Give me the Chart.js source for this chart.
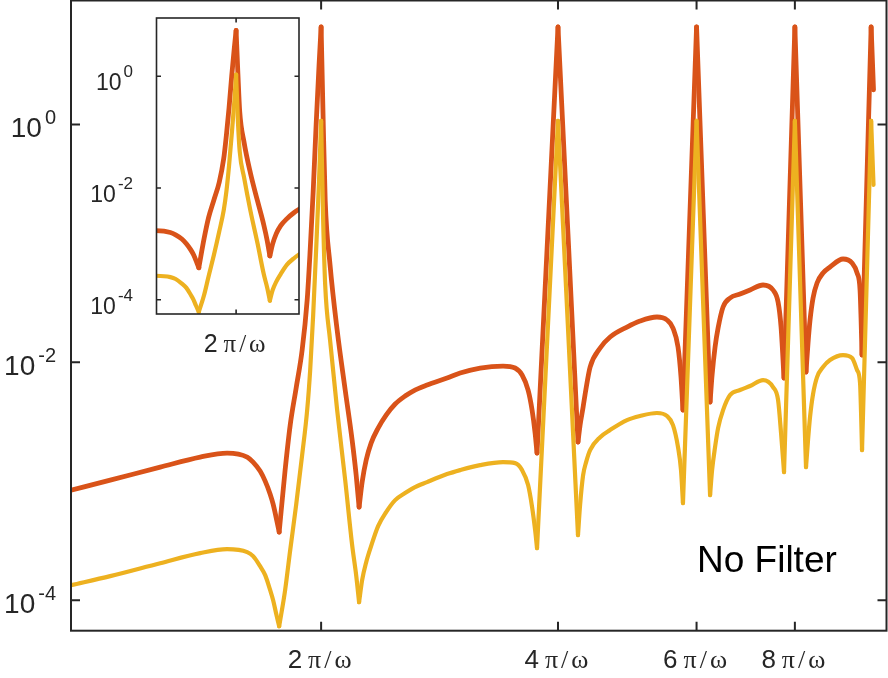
<!DOCTYPE html>
<html>
<head>
<meta charset="utf-8">
<script src="https://cdn.jsdelivr.net/npm/chart.js@4.4.0/dist/chart.umd.min.js"></script>
<style>
  html, body { margin: 0; padding: 0; background: #fff; }
  #wrap { position: relative; width: 888px; height: 678px; }
  #mainChart { position: absolute; left: 0; top: 0; }
  #insetChart { position: absolute; left: 60px; top: 0; }
</style>
</head>
<body>
<div id="wrap">
  <canvas id="mainChart" width="888" height="678"></canvas>
  <canvas id="insetChart" width="260" height="370"></canvas>
</div>
<script>
// frequency, in units of pi/omega
const freq = [
  0.962, 1.079, 1.249, 1.404, 1.519, 1.611, 1.639, 1.673, 1.698, 1.723,
  1.738, 1.753, 1.769, 1.800, 1.827, 1.859, 1.892, 1.920, 1.937, 1.954,
  1.971, 1.988, 2.0, 2.012, 2.024, 2.053, 2.096, 2.146, 2.190, 2.216,
  2.235, 2.255, 2.282, 2.315, 2.363, 2.419, 2.484, 2.557, 2.618, 2.727,
  2.891, 3.004, 3.185, 3.406, 3.528, 3.601, 3.665, 3.708, 3.741, 3.762,
  4.0, 4.241, 4.267, 4.305, 4.343, 4.394, 4.525, 4.659, 4.895, 5.085,
  5.344, 5.503, 5.600, 5.683, 5.733, 5.766, 6.0, 6.242, 6.279, 6.334,
  6.390, 6.484, 6.618, 6.814, 7.017, 7.289, 7.505, 7.616, 7.683, 7.750,
  8.0, 8.265, 8.314, 8.363, 8.437, 8.536, 8.687, 8.867, 9.211, 9.457,
  9.596, 9.681, 9.709, 9.737, 10.0, 10.07
];

// upper curve (orange-red)
const curveRed = [
  8.43e-4, 1.023e-3, 1.316e-3, 1.598e-3, 1.727e-3, 1.598e-3, 1.450e-3, 1.219e-3, 1.004e-3, 7.80e-4,
  6.43e-4, 5.00e-4, 3.74e-4, 1.242e-3, 2.97e-3, 6.08e-3, 1.269e-2, 3.34e-2, 8.80e-2, 0.2706,
  0.990, 3.165, 6.607, 1.091, 0.2317, 0.0658, 1.869e-2, 5.85e-3, 2.22e-3, 1.127e-3,
  6.07e-4, 9.85e-4, 1.508e-3, 2.096e-3, 2.80e-3, 3.60e-3, 4.46e-3, 5.21e-3, 5.74e-3, 6.44e-3,
  7.38e-3, 8.13e-3, 8.96e-3, 9.31e-3, 8.96e-3, 7.82e-3, 5.85e-3, 3.97e-3, 2.54e-3, 1.727e-3,
  6.607, 2.14e-3, 2.97e-3, 4.21e-3, 6.08e-3, 9.13e-3, 1.319e-2, 1.632e-2, 1.981e-2, 2.226e-2,
  2.404e-2, 2.269e-2, 1.943e-2, 1.345e-2, 7.52e-3, 3.97e-3, 6.607, 4.64e-3, 7.82e-3, 1.345e-2,
  1.943e-2, 2.918e-2, 3.474e-2, 3.753e-2, 4.056e-2, 4.468e-2, 4.056e-2, 3.214e-2, 1.981e-2, 7.38e-3,
  6.607, 8.29e-3, 1.454e-2, 2.269e-2, 3.474e-2, 4.644e-2, 5.637e-2, 6.330e-2, 7.391e-2, 6.842e-2,
  5.637e-2, 4.056e-2, 2.358e-2, 1.152e-2, 6.607, 1.951
];

// lower curve (yellow)
const curveYellow = [
  1.340e-4, 1.595e-4, 2.05e-4, 2.49e-4, 2.69e-4, 2.54e-4, 2.35e-4, 1.935e-4, 1.626e-4, 1.216e-4,
  1.002e-4, 7.79e-5, 6.05e-5, 1.216e-4, 2.64e-4, 6.31e-4, 1.661e-3, 3.97e-3, 8.62e-3, 2.498e-2,
  8.80e-2, 0.3413, 1.070, 0.1573, 4.468e-2, 1.540e-2, 3.97e-3, 1.023e-3, 2.91e-4, 1.626e-4,
  9.64e-5, 1.476e-4, 2.09e-4, 2.85e-4, 4.20e-4, 5.51e-4, 6.95e-4, 7.96e-4, 8.76e-4, 9.85e-4,
  1.150e-3, 1.242e-3, 1.368e-3, 1.450e-3, 1.422e-3, 1.242e-3, 9.29e-4, 6.07e-4, 3.89e-4, 2.74e-4,
  1.070, 3.53e-4, 6.31e-4, 1.127e-3, 1.450e-3, 1.83e-3, 2.35e-3, 2.70e-3, 3.27e-3, 3.54e-3,
  3.75e-3, 3.54e-3, 2.97e-3, 1.94e-3, 1.242e-3, 6.56e-4, 1.070, 7.66e-4, 1.242e-3, 1.94e-3,
  2.80e-3, 3.97e-3, 5.31e-3, 5.85e-3, 6.32e-3, 7.10e-3, 6.20e-3, 4.82e-3, 2.54e-3, 1.195e-3,
  1.070, 1.316e-3, 2.22e-3, 3.47e-3, 5.41e-3, 7.52e-3, 9.13e-3, 1.045e-2, 1.152e-2, 1.087e-2,
  8.62e-3, 6.70e-3, 3.82e-3, 1.83e-3, 1.070, 0.3099
];

// sharp points (notches and resonance peaks) where the smooth curve breaks
const cuspFreq = [1.769, 2.0, 2.235, 3.762, 4.0, 4.241, 5.766, 6.0, 6.242, 7.750, 8.0, 8.265, 9.737, 10.0];

const yTicks = [1, 1e-2, 1e-4];
const yTickExp = ['0', '-2', '-4'];
const xTicks = [2, 4, 6, 8];
const xTickNums = ['2', '4', '6', '8'];
const insetXTicks = [2];
const insetXTickNums = ['2'];

const axisColor = '#262626';
const redColor = '#D95319';
const yellowColor = '#EDB120';

// split a curve into smooth pieces between the sharp points
function pieces(ys) {
  const out = [];
  let cur = [];
  freq.forEach((f, i) => {
    cur.push({ x: f, y: ys[i] });
    if (cuspFreq.includes(f) && cur.length > 1) {
      out.push(cur);
      cur = [{ x: f, y: ys[i] }];
    }
  });
  if (cur.length > 1) out.push(cur);
  return out;
}

function datasets() {
  const ds = [];
  pieces(curveRed).forEach(p => ds.push({ data: p, borderColor: redColor, borderWidth: 4.8, order: 2 }));
  pieces(curveYellow).forEach(p => ds.push({ data: p, borderColor: yellowColor, borderWidth: 4.2, order: 1 }));
  return ds;
}

// frame, inward ticks on all four sides, and MATLAB style labels
function drawAxes(chart, cfg) {
  const { ctx, chartArea: a, scales: { x, y } } = chart;
  ctx.save();
  ctx.strokeStyle = axisColor;
  ctx.lineWidth = cfg.frameWidth;
  ctx.strokeRect(a.left, a.top, a.right - a.left, a.bottom - a.top);
  ctx.beginPath();
  yTicks.forEach(v => {
    const py = y.getPixelForValue(v);
    ctx.moveTo(a.left, py); ctx.lineTo(a.left + cfg.tick, py);
    ctx.moveTo(a.right, py); ctx.lineTo(a.right - cfg.tick, py);
  });
  cfg.xTicks.forEach(v => {
    const px = x.getPixelForValue(v);
    ctx.moveTo(px, a.bottom); ctx.lineTo(px, a.bottom - cfg.tick);
    ctx.moveTo(px, a.top); ctx.lineTo(px, a.top + cfg.tick);
  });
  ctx.stroke();

  ctx.fillStyle = axisColor;
  ctx.textBaseline = 'alphabetic';
  yTicks.forEach((v, i) => {
    const py = y.getPixelForValue(v);
    ctx.font = cfg.supFont;
    const sw = ctx.measureText(yTickExp[i]).width;
    ctx.textAlign = 'left';
    ctx.fillText(yTickExp[i], cfg.labelRight - sw, py + cfg.supDy);
    ctx.font = cfg.baseFont;
    ctx.textAlign = 'right';
    ctx.fillText('10', cfg.labelRight - sw - cfg.supGap, py + cfg.baseDy);
  });

  ctx.textAlign = 'left';
  cfg.xTicks.forEach((v, i) => {
    const px = x.getPixelForValue(v);
    ctx.font = cfg.numFont;
    const w1 = ctx.measureText(cfg.xNums[i]).width;
    ctx.font = cfg.symFont;
    ctx.letterSpacing = cfg.symSpacing;
    const w2 = ctx.measureText('\u03c0/\u03c9').width;
    const x0 = px - (w1 + cfg.symGap + w2) / 2;
    ctx.fillText('\u03c0/\u03c9', x0 + w1 + cfg.symGap, cfg.xBaseline);
    ctx.letterSpacing = '0px';
    ctx.font = cfg.numFont;
    ctx.fillText(cfg.xNums[i], x0, cfg.xBaseline);
  });
  ctx.restore();
}

const mainAxes = {
  id: 'mainAxes',
  afterDraw(chart) {
    drawAxes(chart, {
      frameWidth: 2, tick: 9, xTicks: xTicks, xNums: xTickNums,
      baseFont: '28px "Liberation Sans"', supFont: '20px "Liberation Sans"',
      labelRight: 56, supGap: 3, baseDy: 13, supDy: 0,
      numFont: '26px "Liberation Sans"', symFont: '26px "Liberation Serif"',
      symSpacing: '3px', symGap: 6, xBaseline: 668
    });
    const ctx = chart.ctx;
    ctx.save();
    ctx.fillStyle = '#000';
    ctx.font = '37px "Liberation Sans"';
    ctx.textAlign = 'left';
    ctx.textBaseline = 'alphabetic';
    ctx.fillText('No Filter', 697, 572);
    ctx.restore();
  }
};

const insetAxes = {
  id: 'insetAxes',
  beforeDraw(chart) {
    const { ctx, chartArea: a } = chart;
    ctx.save();
    ctx.fillStyle = '#fff';
    ctx.fillRect(a.left, a.top, a.right - a.left, a.bottom - a.top);
    ctx.restore();
  },
  afterDraw(chart) {
    drawAxes(chart, {
      frameWidth: 1.6, tick: 4.5, xTicks: insetXTicks, xNums: insetXTickNums,
      baseFont: '23px "Liberation Sans"', supFont: '17px "Liberation Sans"',
      labelRight: 73, supGap: 2, baseDy: 14, supDy: 1,
      numFont: '25px "Liberation Sans"', symFont: '25px "Liberation Serif"',
      symSpacing: '3px', symGap: 6, xBaseline: 352
    });
  }
};

const commonOptions = {
  responsive: false,
  animation: false,
  devicePixelRatio: 1,
  elements: {
    point: { radius: 0 },
    line: { tension: 0, cubicInterpolationMode: 'monotone', borderJoinStyle: 'round', borderCapStyle: 'round', fill: false }
  },
  plugins: { legend: { display: false }, tooltip: { enabled: false } }
};

new Chart(document.getElementById('mainChart'), {
  type: 'line',
  data: { datasets: datasets() },
  options: Object.assign({}, commonOptions, {
    layout: { padding: { left: 71, right: 1.5, top: 0.5, bottom: 47.3 } },
    scales: {
      x: { type: 'logarithmic', min: 0.962, max: 10.46, bounds: 'data', display: false },
      y: { type: 'logarithmic', min: 5.55e-5, max: 11, bounds: 'data', display: false }
    }
  }),
  plugins: [mainAxes]
});

new Chart(document.getElementById('insetChart'), {
  type: 'line',
  data: { datasets: datasets() },
  options: Object.assign({}, commonOptions, {
    layout: { padding: { left: 96.5, right: 21, top: 18, bottom: 56 } },
    scales: {
      x: { type: 'logarithmic', min: 1.539, max: 2.46, bounds: 'data', display: false },
      y: { type: 'logarithmic', min: 5.55e-5, max: 11, bounds: 'data', display: false }
    }
  }),
  plugins: [insetAxes]
});
</script>
</body>
</html>
